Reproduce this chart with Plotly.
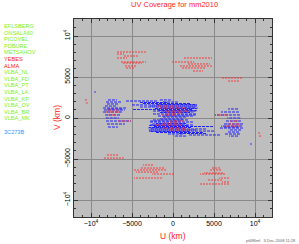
import plotly.graph_objects as go

# ---- data (km): each track = constant v, from u0 to u1; conjugate (-u,-v) also plotted
red_v  = [8050, 7800, 7560, 7320, 6830, 6710, 6340, 6100,
          7320, 6830, 6590, 6340, 6100, 5730,
          4880, 4510,
          2200, 1830,
          1460, 1220, 850, 610, 370,
          980, 730, 370, -370]
red_u0 = [-6830, -6830, -5980, -6830, -6340, -6100, -5860, -5730,
          1340, -120, 1830, 850, 1100, 2440,
          5980, 6710,
          -10740, -10620,
          -1950, -1590, -980, -610, -1340,
          -8050, -8170, -7930, -6710]
red_u1 = [-3170, -5980, -4150, -5610, -3290, -3780, -4390, -4760,
          4760, 2560, 4510, 4760, 4030, 3660,
          8420, 8180,
          -10370, -10400,
          490, 1460, 2070, 1100, 370,
          -6460, -6580, -6830, -5120]

blue_v  = [3170,
           2200, 1950, 1710, 1460, 1220, 1100, 980, 730, 370, 0, -370, -730, -1100,
           2200, 2070, 1950, 1890, 1770, 1650, 1590, 1460, 1340, 1220, 1160, 1040,
           920, 850, 730, 670, 490, 370, 240, 120]
blue_u0 = [-9600,
           -7930, -8170, -8050, -8300, -8540, -8000, -8420, -8540, -8290, -8200, -8170, -8050, -7930,
           -1600, -5730, -1200, -4030, -3660, -2000, -5000, -2800, -4030, -1500, -2200, -4880,
           -1800, -2440, -1200, -1600, -2440, -1000, -1830, -1220]
blue_u1 = [-9400,
           -6830, -6340, -6710, -6800, -5610, -6200, -5860, -6100, -6460, -6600, -5120, -5860, -6710,
           -100, -1950, 600, -610, 2070, 2900, 2930, 2930, 2680, 3000, 2930, 2320,
           2900, 2930, 2500, 2070, 2800, 2900, 2560, 1590]

stations = ["EFLSBERG", "ONSALA60", "PICOVEL", "PDBURE", "METSAHOV", "YEBES", "ALMA",
            "VLBA_NL", "VLBA_FD", "VLBA_PT", "VLBA_LA", "VLBA_KP", "VLBA_OV", "VLBA_BR", "VLBA_MK"]
station_colors = ["#80f020"] * 5 + ["#ff2222"] * 2 + ["#80f020"] * 8
source = "3C273B"

tick_vals = [-10000, -5000, 0, 5000, 10000]
tick_text = ["\u221210<sup>4</sup>", "\u22125000", "0", "5000", "10<sup>4</sup>"]
axis_range = [-12073, 12073]


def tracks(vs, u0s, u1s):
    xs, ys = [], []
    for v, a, b in zip(vs, u0s, u1s):
        xs += [a, b, None, -a, -b, None]
        ys += [v, v, None, -v, -v, None]
    return xs, ys


fig = go.Figure()
bx, by = tracks(blue_v, blue_u0, blue_u1)
fig.add_trace(go.Scatter(x=bx, y=by, mode="lines",
                         line=dict(color="#2020ff", width=1, dash="3px,1px"),
                         hoverinfo="skip", showlegend=False))
rx, ry = tracks(red_v, red_u0, red_u1)
fig.add_trace(go.Scatter(x=rx, y=ry, mode="lines",
                         line=dict(color="#ff2a2a", width=0.9, dash="2px,1px"),
                         hoverinfo="skip", showlegend=False))

ax = dict(range=axis_range, tickvals=tick_vals, ticktext=tick_text,
          showgrid=True, gridcolor="#8a8a8a", gridwidth=1,
          zeroline=True, zerolinecolor="#8a8a8a", zerolinewidth=1,
          showline=True, linecolor="#333333", linewidth=1, mirror="ticks",
          ticks="inside", ticklen=4, tickcolor="#333333",
          minor=dict(dtick=1000, ticks="inside", ticklen=2, tickcolor="#333333", showgrid=False),
          tickfont=dict(size=7, color="#000000", family="Liberation Sans"),
          automargin=False, fixedrange=True)

fig.update_layout(
    width=299, height=244,
    margin=dict(l=74, r=27, t=19, b=27),
    paper_bgcolor="#ffffff", plot_bgcolor="#bebebe",
    xaxis=dict(**ax),
    yaxis=dict(**ax, tickangle=-90),
    showlegend=False,
)

annotations = []
W, H = 198.0, 198.0
def px(x):
    return (x - 74) / W
def py(y):
    return (217 - y) / H

for i, (name, col) in enumerate(zip(stations, station_colors)):
    annotations.append(dict(text=name, x=px(2), y=py(26 + i * 6.6), xref="paper", yref="paper",
                            xanchor="left", yanchor="middle", showarrow=False,
                            font=dict(size=5.6, color=col, family="Liberation Sans")))
annotations.append(dict(text=source, x=px(2), y=py(132), xref="paper", yref="paper",
                        xanchor="left", yanchor="middle", showarrow=False,
                        font=dict(size=5.6, color="#3d8dff", family="Liberation Sans")))
annotations.append(dict(text="UV Coverage for mm2010", x=px(174), y=py(5), xref="paper", yref="paper",
                        xanchor="center", yanchor="middle", showarrow=False,
                        font=dict(size=7.5, color="#ff2222", family="Liberation Sans")))
annotations.append(dict(text="U (km)", x=px(173), y=py(236), xref="paper", yref="paper",
                        xanchor="center", yanchor="middle", showarrow=False,
                        font=dict(size=8.5, color="#ff2222", family="Liberation Sans")))
annotations.append(dict(text="V (km)", x=px(57), y=py(118), xref="paper", yref="paper",
                        xanchor="center", yanchor="middle", showarrow=False, textangle=-90,
                        font=dict(size=8.5, color="#ff2222", family="Liberation Sans")))
annotations.append(dict(text="pt686ml   3-Dec-2008 11:28", x=px(298), y=py(240), xref="paper", yref="paper",
                        xanchor="right", yanchor="middle", showarrow=False,
                        font=dict(size=4, color="#666666", family="Liberation Sans")))
fig.update_layout(annotations=annotations)

fig.write_html("out.html", config={"displayModeBar": False},
               post_script="document.body.style.margin='0px';")
